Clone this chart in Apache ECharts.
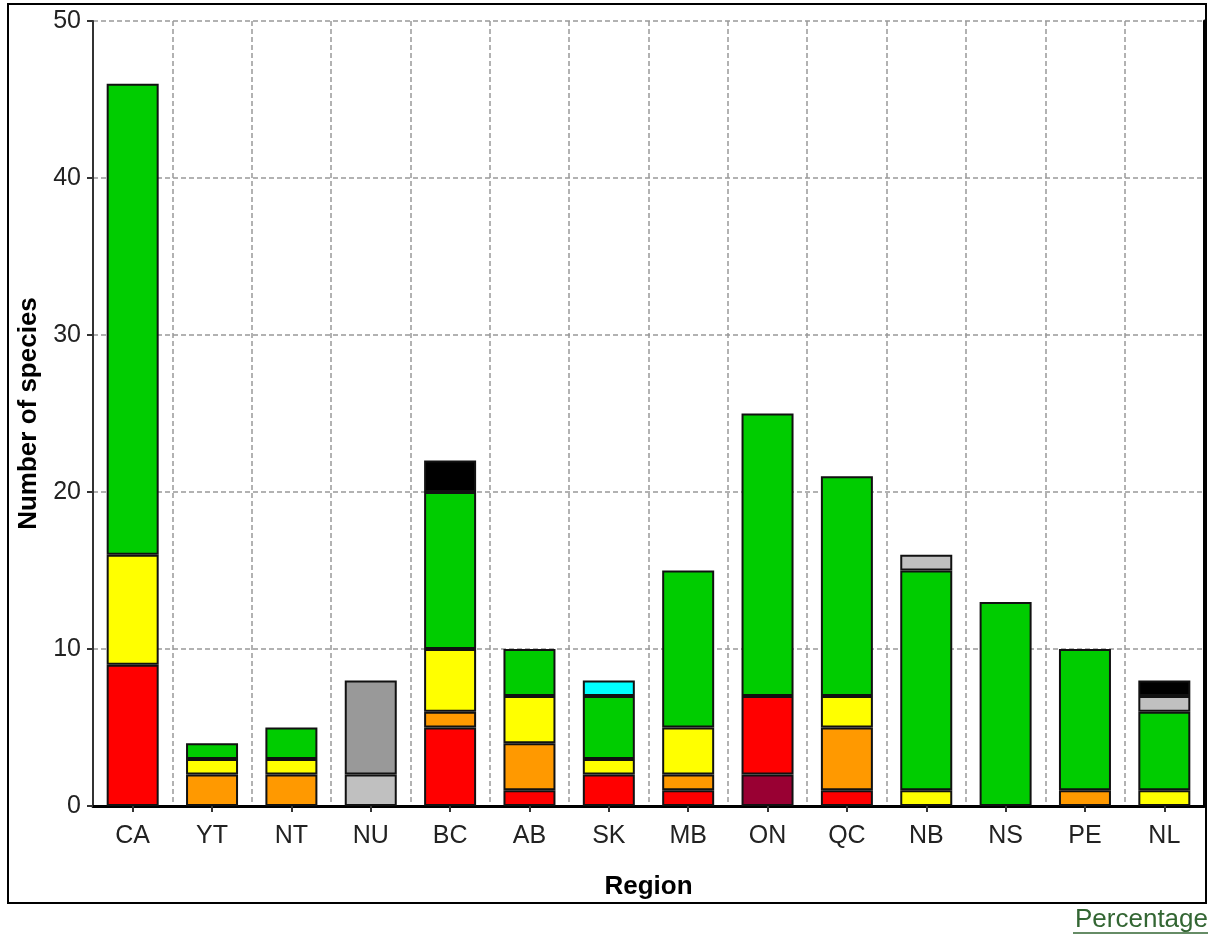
<!DOCTYPE html>
<html>
<head>
<meta charset="utf-8">
<script src="https://cdn.jsdelivr.net/npm/echarts@6/dist/echarts.min.js"></script>
<style>
html,body{margin:0;padding:0;background:#fff;}
#chart{width:1211px;height:934px;}
</style>
</head>
<body>
<div id="chart"></div>
<script>
const categories = ['CA','YT','NT','NU','BC','AB','SK','MB','ON','QC','NB','NS','PE','NL'];
const extirpated   = [0,0,0,0,0,0,0,0,2,0,0,0,0,0];
const atRisk       = [9,0,0,0,5,1,2,1,5,1,0,0,0,0];
const mayBeAtRisk  = [0,2,2,0,1,3,0,1,0,4,0,0,1,0];
const sensitive    = [7,1,1,0,4,3,1,3,0,2,1,0,0,1];
const secure       = [30,1,2,0,10,3,4,10,18,14,14,13,9,5];
const accidental   = [0,0,0,0,0,0,1,0,0,0,0,0,0,0];
const undetermined = [0,0,0,2,0,0,0,0,0,0,1,0,0,1];
const notAssessed  = [0,0,0,6,0,0,0,0,0,0,0,0,0,0];
const exotic       = [0,0,0,0,2,0,0,0,0,0,0,0,0,1];
const yTicks = [0,10,20,30,40,50];

const seriesDefs = [
  ['Extirpated', extirpated, '#990033'],
  ['At Risk', atRisk, '#FF0000'],
  ['May Be At Risk', mayBeAtRisk, '#FF9900'],
  ['Sensitive', sensitive, '#FFFF00'],
  ['Secure', secure, '#00CC00'],
  ['Accidental', accidental, '#00FFFF'],
  ['Undetermined', undetermined, '#C0C0C0'],
  ['Not Assessed', notAssessed, '#999999'],
  ['Exotic', exotic, '#000000']
];

const chart = echarts.init(document.getElementById('chart'), null, {renderer:'canvas'});
const font = '"Liberation Sans", Arial, sans-serif';
chart.setOption({
  animation:false,
  backgroundColor:'#fff',
  grid:{left:93,right:7,top:21,bottom:128,containLabel:false},
  xAxis:{
    type:'category',
    data:categories,
    name:'Region',
    nameLocation:'middle',
    nameGap:68,
    nameTextStyle:{fontFamily:font,fontSize:26,fontWeight:'bold',color:'#000'},
    axisLine:{lineStyle:{color:'#000',width:3}},
    axisTick:{show:true,alignWithLabel:true,length:6,lineStyle:{color:'#333',width:2}},
    axisLabel:{fontFamily:font,fontSize:25,color:'#222',margin:18},
    splitLine:{show:true,lineStyle:{color:'#999',type:[5,3],width:1.5}}
  },
  yAxis:[{
    type:'value',
    min:yTicks[0],max:yTicks[yTicks.length-1],interval:10,
    name:'Number of species',
    nameLocation:'middle',
    nameGap:48,
    nameTextStyle:{fontFamily:font,fontSize:26,fontWeight:'bold',color:'#000'},
    axisLine:{show:true,lineStyle:{color:'#333',width:2}},
    axisTick:{show:true,length:6,lineStyle:{color:'#333',width:2}},
    axisLabel:{fontFamily:font,fontSize:25,color:'#222',margin:12},
    splitLine:{show:true,lineStyle:{color:'#999',type:[5,3],width:1.5}}
  },{
    type:'value',position:'right',min:0,max:50,interval:10,
    axisLine:{show:true,lineStyle:{color:'#000',width:3}},
    axisTick:{show:false},axisLabel:{show:false},splitLine:{show:false}
  }],
  series:seriesDefs.map(([name,vals,color])=>({
    name:name,type:'bar',stack:'total',barWidth:52,
    data:vals.map(v=>v===0?'-':v),
    itemStyle:{color:color,borderColor:'#111',borderWidth:2}
  })),
  graphic:[
    {type:'rect',shape:{x:8,y:4,width:1198,height:899},style:{fill:'none',stroke:'#000',lineWidth:2},z:100},
    {type:'text',x:1208,y:920,style:{text:'Percentage',font:'26px "Liberation Sans", Arial, sans-serif',fill:'#336633',textAlign:'right',textVerticalAlign:'middle'},z:100},
    {type:'line',shape:{x1:1073,y1:933,x2:1208,y2:933},style:{stroke:'#336633',lineWidth:1.5},z:100}
  ]
});
</script>
</body>
</html>
